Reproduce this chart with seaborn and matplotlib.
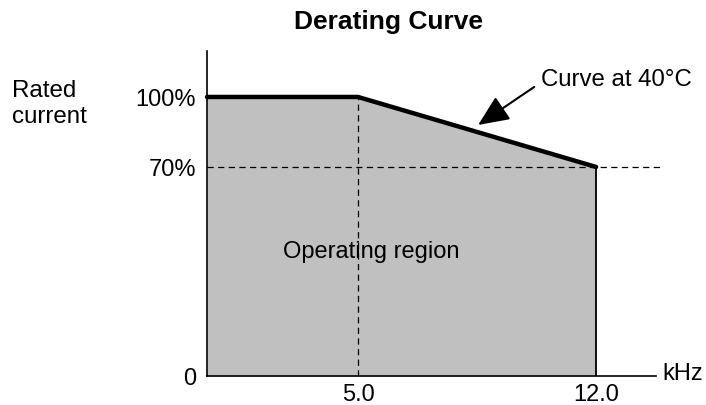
import numpy as np
import pandas as pd
import matplotlib
matplotlib.use("Agg")
import matplotlib.pyplot as plt
import seaborn as sns

# ---- data ----
freq_khz = [0.0, 5.0, 12.0]
rated_pct = [100, 100, 70]
y_ticks = [0, 70, 100]
y_ticklabels = ["0", "70%", "100%"]
x_ticks = [5.0, 12.0]
x_ticklabels = ["5.0", "12.0"]

sns.set_theme(style="white")
plt.rcParams['font.family'] = ['Liberation Sans', 'DejaVu Sans']

fig = plt.figure(figsize=(7.06, 4.06), dpi=100)
ax = fig.add_axes([207/706, 29/406, 449/706, 325/406])

# schematic (piecewise-linear) scales, as in the original drawing
xk_d = [-100.0, 0.0, 5.0, 12.0, 100.0]
xk_p = [-3400.0, 0.0, 151.0, 389.0, 389.0 + 88 * 34.0]
yk_d = [-100.0, 0.0, 70.0, 100.0, 300.0]
yk_p = [-298.6, 0.0, 209.0, 279.0, 279.0 + 200 * 2.333]

ax.set_xscale('function', functions=(lambda v: np.interp(v, xk_d, xk_p),
                                     lambda p: np.interp(p, xk_p, xk_d)))
ax.set_yscale('function', functions=(lambda v: np.interp(v, yk_d, yk_p),
                                     lambda p: np.interp(p, yk_p, yk_d)))

df = pd.DataFrame({"freq": freq_khz, "rated": rated_pct})

ax.fill_between(df["freq"], df["rated"], 0, color="#c0c0c0", lw=0, zorder=1)
# guide lines
ax.plot([freq_khz[1], freq_khz[1]], [0, rated_pct[1]], color="black", lw=0.9,
        dashes=(5, 3.5), zorder=2)
ax.plot([0, 13.9], [rated_pct[2], rated_pct[2]], color="black", lw=0.9,
        dashes=(5, 3.5), zorder=2, clip_on=False)
ax.plot([freq_khz[2], freq_khz[2]], [0, rated_pct[2]], color="black", lw=1.3, zorder=3)

sns.lineplot(data=df, x="freq", y="rated", color="black", lw=3.2, ax=ax,
             zorder=4, clip_on=False)

ax.set_xlim(0, 13.76)
ax.set_ylim(0, 119.7)
ax.set_xticks(x_ticks)
ax.set_xticklabels(x_ticklabels)
ax.set_yticks(y_ticks)
ax.set_yticklabels(y_ticklabels)
ax.set_xlabel("")
ax.set_ylabel("")
ax.tick_params(axis='both', length=0, labelsize=17, labelcolor="black")
ax.tick_params(axis='y', pad=8)
ax.tick_params(axis='x', pad=5)

for s in ["top", "right"]:
    ax.spines[s].set_visible(False)
for s in ["left", "bottom"]:
    ax.spines[s].set_color("black")
    ax.spines[s].set_linewidth(1.2)
ax.set_facecolor("none")

# annotations
ax.annotate("", xy=(8.53, 88), xytext=(10.18, 104.3),
            arrowprops=dict(arrowstyle="-|>,head_length=0.95,head_width=0.42",
                            color="black", lw=1.5, mutation_scale=20,
                            shrinkA=0, shrinkB=0))
ax.text(10.38, 107.7, "Curve at 40\u00b0C", ha="left", va="center", fontsize=17.3,
        color="black")
ax.text(5.4, 41.9, "Operating region", ha="center", va="center", fontsize=17,
        color="black")

fig.text(388.5/706, 1 - 22/406, "Derating Curve", ha="center", va="center",
         fontsize=19, fontweight="bold", color="black")
fig.text(12/706, 1 - 104/406, "Rated\ncurrent", ha="left", va="center",
         fontsize=17.4, color="black", linespacing=1.28)
fig.text(662/706, 1 - 374/406, "kHz", ha="left", va="center", fontsize=17,
         color="black")

fig.savefig("out.png", dpi=100)
